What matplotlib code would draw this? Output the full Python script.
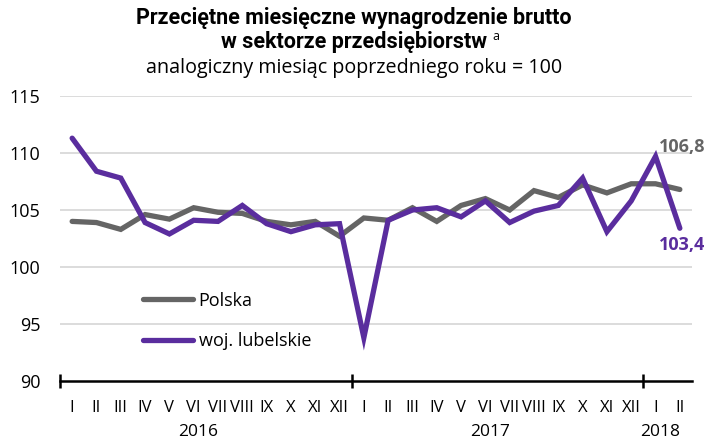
import matplotlib
matplotlib.use("Agg")
import matplotlib.pyplot as plt
import numpy as np

months = ["I", "II", "III", "IV", "V", "VI", "VII", "VIII", "IX", "X", "XI", "XII",
          "I", "II", "III", "IV", "V", "VI", "VII", "VIII", "IX", "X", "XI", "XII",
          "I", "II"]
years = ["2016", "2017", "2018"]
year_start = [0, 12, 24]
year_len = [12, 12, 2]

polska = [104.0, 103.9, 103.3, 104.6, 104.2, 105.2, 104.8, 104.7, 104.0, 103.7, 104.0, 102.7,
          104.3, 104.1, 105.2, 104.0, 105.4, 106.0, 105.0, 106.7, 106.1, 107.2, 106.5, 107.3,
          107.3, 106.8]
lubelskie = [111.3, 108.4, 107.8, 103.9, 102.9, 104.1, 104.0, 105.4, 103.8, 103.1, 103.7, 103.8,
             93.8, 104.1, 105.0, 105.2, 104.4, 105.8, 103.9, 104.9, 105.4, 107.8, 103.1, 105.8,
             109.7, 103.4]

GRAY = "#656565"
PURPLE = "#5a2d9e"
FONT = ["Open Sans", "DejaVu Sans"]
TFONT = ["Liberation Sans Narrow", "Roboto", "DejaVu Sans"]
plt.rcParams['font.family'] = FONT

fig = plt.figure(figsize=(7.08, 4.41), dpi=100)
ax = fig.add_axes([60/708, 1-381/441, 632/708, 285/441])

x = np.arange(len(months))
ax.plot(x, polska, color=GRAY, lw=3.8, solid_capstyle='round', solid_joinstyle='miter', zorder=3, label="Polska")
ax.plot(x, lubelskie, color=PURPLE, lw=3.8, solid_capstyle='round', solid_joinstyle='miter', zorder=4, label="woj. lubelskie")

ax.set_xlim(-0.5, len(months) - 0.5)
ax.set_ylim(90, 115)
ax.set_yticks([90, 95, 100, 105, 110, 115])
ax.tick_params(axis='y', length=0, labelsize=13, pad=14)
for yv in [95, 100, 105, 110, 115]:
    ax.axhline(yv, color="#d9d9d9", lw=1.3, zorder=1)

for s in ["top", "right", "left"]:
    ax.spines[s].set_visible(False)
ax.spines["bottom"].set_linewidth(1.8)
ax.spines["bottom"].set_color("black")

boundaries = [s - 0.5 for s in year_start]
ax.set_xticks(boundaries)
ax.set_xticklabels([])
ax.tick_params(axis='x', which='major', direction='inout', length=10, width=1.8, color='black')
ax.set_xticks(x, minor=True)
ax.set_xticklabels(months, minor=True)
ax.tick_params(axis='x', which='minor', length=0, labelsize=12, pad=14)

for yr, st, ln in zip(years, year_start, year_len):
    ax.text(st + ln / 2 - 0.8, -0.18, yr, transform=ax.get_xaxis_transform(),
            ha='center', va='center', fontsize=12.5)

# legend
ax.legend(loc='upper left', bbox_to_anchor=(0.105, 0.37), frameon=False, fontsize=13,
          handlelength=2.8, handletextpad=0.3, labelspacing=1.25)

# end labels
l1 = ax.text(25.1, polska[-1] + 3.7, "106,8", color=GRAY, fontsize=13, fontweight='bold', ha='center', va='center')
l2 = ax.text(25.1, lubelskie[-1] - 1.5, "103,4", color=PURPLE, fontsize=13, fontweight='bold', ha='center', va='center')
l1.set_clip_on(False)
l2.set_clip_on(False)

# titles
fig.text(0.5, 1 - 18/441, "Przeciętne miesięczne wynagrodzenie brutto", ha='center', va='center',
         fontsize=15.5, fontweight='bold', family=TFONT)
t2 = fig.text(0.5, 1 - 42/441, "w sektorze przedsiębiorstw", ha='center', va='center',
              fontsize=15.5, fontweight='bold', family=TFONT)
fig.text(0.5, 1 - 68/441, "analogiczny miesiąc poprzedniego roku = 100", ha='center', va='center', fontsize=14.2)

fig.canvas.draw()
bb = t2.get_window_extent()
fig.text((bb.x1 + 5) / 708, 1 - 37/441, "a", ha='left', va='center', fontsize=9)

fig.savefig("out.png", dpi=100)
